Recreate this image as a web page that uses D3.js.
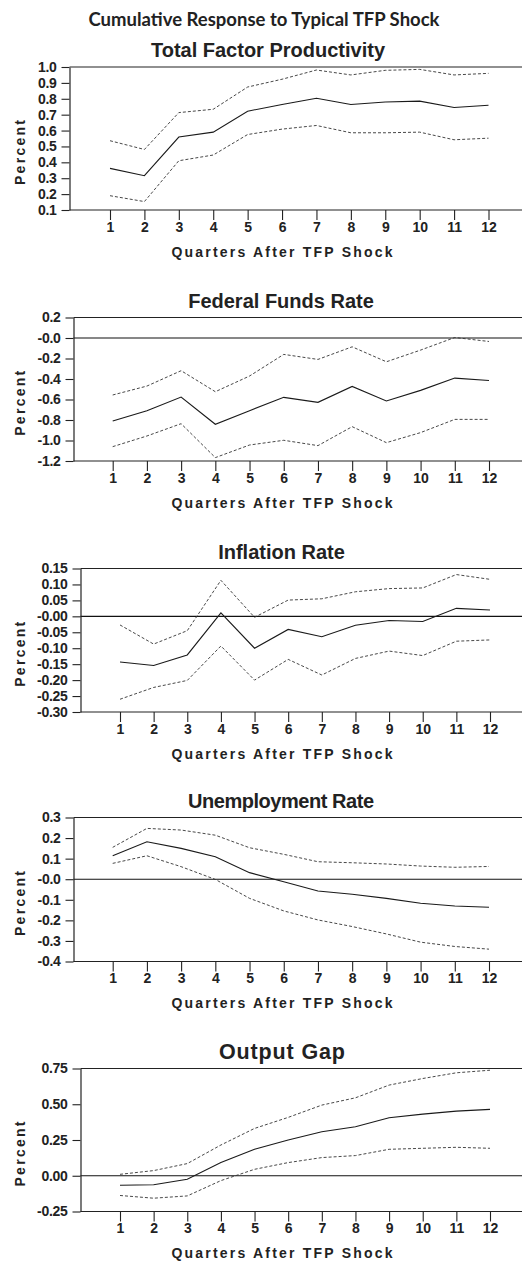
<!DOCTYPE html>
<html><head><meta charset="utf-8">
<script src="https://cdn.jsdelivr.net/npm/d3@7/dist/d3.min.js"></script>
<style>body{margin:0;background:#fff}svg{display:block}</style>
</head><body>
<svg id="chart" width="522" height="1264"></svg>
<script>
// ---------------- DATA ----------------
const quarters = [1,2,3,4,5,6,7,8,9,10,11,12];
const chartTitle = "Cumulative Response to Typical TFP Shock";
const xAxisTitle = "Quarters After TFP Shock";
const yAxisTitle = "Percent";
const panelTitles = ["Total Factor Productivity","Federal Funds Rate","Inflation Rate","Unemployment Rate","Output Gap"];

const tfpEstimate = [0.362,0.316,0.559,0.590,0.722,0.764,0.803,0.764,0.780,0.785,0.745,0.759];
const tfpLower    = [0.190,0.153,0.410,0.446,0.575,0.609,0.632,0.586,0.586,0.590,0.542,0.552];
const tfpUpper    = [0.536,0.481,0.713,0.734,0.874,0.923,0.981,0.950,0.979,0.985,0.950,0.960];
const tfpTicks      = [0.1,0.2,0.3,0.4,0.5,0.6,0.7,0.8,0.9,1.0];
const tfpTickLabels = ["0.1","0.2","0.3","0.4","0.5","0.6","0.7","0.8","0.9","1.0"];

const ffrEstimate = [-0.810,-0.709,-0.576,-0.842,-0.709,-0.579,-0.628,-0.472,-0.615,-0.511,-0.391,-0.414];
const ffrLower    = [-1.060,-0.956,-0.836,-1.167,-1.044,-0.998,-1.050,-0.865,-1.021,-0.923,-0.794,-0.794];
const ffrUpper    = [-0.556,-0.469,-0.319,-0.524,-0.371,-0.160,-0.209,-0.086,-0.232,-0.118,0.005,-0.034];
const ffrTicks      = [-1.2,-1.0,-0.8,-0.6,-0.4,-0.2,0,0.2];
const ffrTickLabels = ["-1.2","-1.0","-0.8","-0.6","-0.4","-0.2","-0.0","0.2"];

const infEstimate = [-0.143,-0.154,-0.121,0.011,-0.100,-0.041,-0.064,-0.028,-0.013,-0.016,0.025,0.020];
const infLower    = [-0.260,-0.223,-0.201,-0.093,-0.200,-0.135,-0.184,-0.132,-0.109,-0.123,-0.078,-0.074];
const infUpper    = [-0.027,-0.087,-0.045,0.113,-0.003,0.051,0.055,0.077,0.087,0.089,0.131,0.116];
const infTicks      = [-0.30,-0.25,-0.20,-0.15,-0.10,-0.05,0,0.05,0.10,0.15];
const infTickLabels = ["-0.30","-0.25","-0.20","-0.15","-0.10","-0.05","-0.00","0.05","0.10","0.15"];

const unEstimate = [0.114,0.182,0.150,0.109,0.032,-0.012,-0.057,-0.073,-0.093,-0.117,-0.130,-0.136];
const unLower    = [0.077,0.114,0.061,-0.001,-0.093,-0.154,-0.198,-0.230,-0.266,-0.306,-0.327,-0.340];
const unUpper    = [0.155,0.247,0.239,0.214,0.153,0.121,0.085,0.080,0.074,0.064,0.058,0.062];
const unTicks      = [-0.4,-0.3,-0.2,-0.1,0,0.1,0.2,0.3];
const unTickLabels = ["-0.4","-0.3","-0.2","-0.1","-0.0","0.1","0.2","0.3"];

const gapEstimate = [-0.066,-0.063,-0.024,0.092,0.185,0.250,0.308,0.343,0.406,0.431,0.452,0.464];
const gapLower    = [-0.138,-0.157,-0.141,-0.034,0.045,0.092,0.127,0.141,0.185,0.192,0.199,0.192];
const gapUpper    = [0.010,0.036,0.085,0.215,0.331,0.408,0.494,0.545,0.634,0.680,0.720,0.738];
const gapTicks      = [-0.25,0,0.25,0.50,0.75];
const gapTickLabels = ["-0.25","0.00","0.25","0.50","0.75"];

const panelSeries = [
  {est: tfpEstimate, lo: tfpLower, hi: tfpUpper, ticks: tfpTicks, labels: tfpTickLabels, zero: false},
  {est: ffrEstimate, lo: ffrLower, hi: ffrUpper, ticks: ffrTicks, labels: ffrTickLabels, zero: true},
  {est: infEstimate, lo: infLower, hi: infUpper, ticks: infTicks, labels: infTickLabels, zero: true},
  {est: unEstimate,  lo: unLower,  hi: unUpper,  ticks: unTicks,  labels: unTickLabels,  zero: true},
  {est: gapEstimate, lo: gapLower, hi: gapUpper, ticks: gapTicks, labels: gapTickLabels, zero: true}
];

// ---------------- LAYOUT ----------------
const W = 522;
const layout = [
  {top: 67,    bottom: 210,    axisX: 69.5, x1: 110,   x12: 488.5, titleX: 268,   titleLen: null, titleSize: 20},
  {top: 317.5, bottom: 461,    axisX: 73.5, x1: 112.7, x12: 489,   titleX: 281,   titleLen: null, titleSize: 20},
  {top: 568.5, bottom: 712,    axisX: 80.5, x1: 120,   x12: 490,   titleX: 281.5, titleLen: null, titleSize: 20},
  {top: 817.5, bottom: 961.5,  axisX: 73.5, x1: 112.7, x12: 489,   titleX: 281,   titleLen: 186,  titleSize: 20},
  {top: 1068.5,bottom: 1211.5, axisX: 80.5, x1: 120,   x12: 490,   titleX: 282,   titleLen: 126,  titleSize: 21.5}
];
const FONT = "'Liberation Sans', Arial, sans-serif";

const svg = d3.select("#chart");

svg.append("text")
  .attr("x", 264).attr("y", 25.5)
  .attr("text-anchor", "middle")
  .attr("font-family", "Lato, 'Open Sans', sans-serif")
  .attr("font-weight", 700).attr("font-size", 18.5)
  .attr("fill", "#222")
  .text(chartTitle);

panelSeries.forEach((p, k) => {
  const L = layout[k];
  const g = svg.append("g");
  const x = d3.scaleLinear().domain([1, 12]).range([L.x1, L.x12]);
  const y = d3.scaleLinear().domain(d3.extent(p.ticks)).range([L.bottom, L.top]);

  // title
  const t = g.append("text")
    .attr("x", L.titleX).attr("y", L.top - 10)
    .attr("text-anchor", "middle")
    .attr("font-family", FONT).attr("font-weight", 700).attr("font-size", L.titleSize)
    .attr("fill", "#222")
    .text(panelTitles[k]);
  if (L.titleLen) t.attr("textLength", L.titleLen).attr("lengthAdjust", "spacing");

  // frame lines
  g.append("line").attr("x1", L.axisX).attr("x2", W).attr("y1", L.top).attr("y2", L.top)
    .attr("stroke", "#222").attr("stroke-width", 1.2);
  g.append("line").attr("x1", L.axisX).attr("x2", W).attr("y1", L.bottom).attr("y2", L.bottom)
    .attr("stroke", "#222").attr("stroke-width", 1.2);
  if (p.zero) {
    g.append("line").attr("x1", L.axisX).attr("x2", W).attr("y1", y(0)).attr("y2", y(0))
      .attr("stroke", "#111").attr("stroke-width", 1.1);
  }

  // y axis
  const yAx = g.append("g").attr("transform", `translate(${L.axisX},0)`)
    .call(d3.axisLeft(y).tickValues(p.ticks).tickFormat((d, i) => p.labels[i])
      .tickSize(8).tickPadding(5).tickSizeOuter(0));
  yAx.select(".domain").attr("stroke", "#222").attr("stroke-width", 1.2);
  yAx.selectAll(".tick line").attr("stroke", "#222").attr("stroke-width", 1.1);
  yAx.selectAll("text").attr("font-family", FONT).attr("font-weight", 700)
    .attr("font-size", 14).attr("fill", "#222").attr("letter-spacing", -0.3);

  // x axis
  const xAx = g.append("g").attr("transform", `translate(0,${L.bottom})`)
    .call(d3.axisBottom(x).tickValues(quarters).tickFormat(d3.format("d"))
      .tickSize(10).tickPadding(2).tickSizeOuter(0));
  xAx.select(".domain").remove();
  xAx.selectAll(".tick line").attr("stroke", "#222").attr("stroke-width", 1.1);
  xAx.selectAll("text").attr("font-family", FONT).attr("font-weight", 700)
    .attr("font-size", 14).attr("fill", "#222");

  // axis titles
  g.append("text")
    .attr("x", 282).attr("y", L.bottom + 46.5)
    .attr("text-anchor", "middle")
    .attr("font-family", FONT).attr("font-weight", 700).attr("font-size", 14)
    .attr("fill", "#222")
    .attr("textLength", 221).attr("lengthAdjust", "spacing")
    .text(xAxisTitle);
  const cy = (L.top + L.bottom) / 2 + 14;
  g.append("text")
    .attr("transform", `translate(25,${cy}) rotate(-90)`)
    .attr("text-anchor", "middle")
    .attr("font-family", FONT).attr("font-weight", 700).attr("font-size", 14)
    .attr("fill", "#222")
    .attr("textLength", 65).attr("lengthAdjust", "spacing")
    .text(yAxisTitle);

  // lines
  const line = d3.line().x((d, i) => x(quarters[i])).y(d => y(d));
  g.append("path").datum(p.hi).attr("d", line).attr("fill", "none")
    .attr("stroke", "#333").attr("stroke-width", 0.9).attr("stroke-dasharray", "3,2");
  g.append("path").datum(p.lo).attr("d", line).attr("fill", "none")
    .attr("stroke", "#333").attr("stroke-width", 0.9).attr("stroke-dasharray", "3,2");
  g.append("path").datum(p.est).attr("d", line).attr("fill", "none")
    .attr("stroke", "#1a1a1a").attr("stroke-width", 1.1);
});
</script>
</body></html>
